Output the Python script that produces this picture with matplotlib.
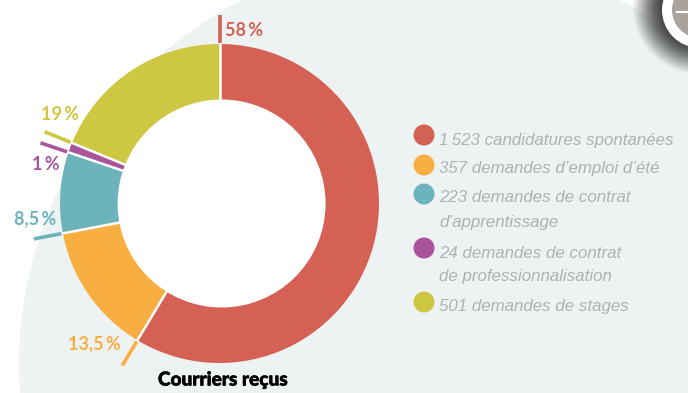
import matplotlib
matplotlib.use("Agg")
import matplotlib.pyplot as plt
import matplotlib.patheffects as pe
from matplotlib.patches import Circle
import numpy as np

# slice shares as measured on the picture (legend counts stay in the text)
shares = [58.6, 13.4, 8.2, 1.0, 18.8]
pct_labels = ["58\u2009%", "13,5\u2009%", "8,5\u2009%", "1\u2009%", "19\u2009%"]
colors = ["#d56154", "#f9ae41", "#6db3bc", "#a9559b", "#cdc742"]
legend_lines = [
    ["1\u2009523 candidatures spontanées"],
    ["357 demandes d\u2019emploi d\u2019été"],
    ["223 demandes de contrat", "d\u2019apprentissage"],
    ["24 demandes de contrat", "de professionnalisation"],
    ["501 demandes de stages"],
]
title = "Courriers reçus"

W, H = 688, 393
fig = plt.figure(figsize=(W / 100, H / 100), dpi=100)
ax = fig.add_axes([0, 0, 1, 1])

def py(y):
    # picture y (top down) to axes y
    return H - y

cx, cy, r_out = 219.5, py(203.5), 159.5
# the hole is not quite centred on the ring in the original
hole_x, hole_r = 221.6, 104

# big pale disc behind everything
ax.add_patch(Circle((431, py(366)), 412, fc="#edf3f3", ec="none", zorder=0))

# clock badge in the corner with its soft shadow
for rad in np.arange(66, 37, -1.5):
    a = 0.045 + 0.10 * (66 - rad) / 28
    ax.add_patch(Circle((699, py(8)), rad, fc="#2e2e2e", ec="none", alpha=a, zorder=1))
ax.add_patch(Circle((700, py(10)), 38, fc="white", ec="none", zorder=2))
ax.add_patch(Circle((700, py(10)), 28, fc="#aaa39d", ec="none", zorder=3))
ax.plot([677, 688], [py(12), py(12)], color="white", lw=1.5, zorder=4)

wedges, _ = ax.pie(
    shares, colors=colors, startangle=90, counterclock=False,
    center=(cx, cy), radius=r_out, frame=True,
    wedgeprops=dict(width=r_out - 90, linewidth=0),
)
for w in wedges:
    w.set_zorder(5)

# white gaps and leader ticks sit on the start edge of each slice
fracs = np.cumsum([0] + shares[:-1]) / sum(shares)
for f, col in zip(fracs, colors):
    ang = np.pi / 2 - 2 * np.pi * f
    dx, dy = np.cos(ang), np.sin(ang)
    ax.plot([cx + dx * 95, cx + dx * (r_out + 1)],
            [cy + dy * 95, cy + dy * (r_out + 1)],
            color="white", lw=1.8, solid_capstyle="butt", zorder=6)
    ax.plot([cx + dx * 161, cx + dx * 189], [cy + dy * 161, cy + dy * 189],
            color=col, lw=2.6, solid_capstyle="butt", zorder=7)
ax.add_patch(Circle((hole_x, cy), hole_r, fc="white", ec="none", zorder=6.5))

label_pos = [(225, 30), (68, 344), (14, 219), (32, 165), (41, 115)]
for (x, y), txt, col in zip(label_pos, pct_labels, colors):
    ax.text(x, py(y), txt, color=col, fontsize=13, fontweight="bold",
            family="Lato", ha="left", va="center", zorder=8)

ax.text(223, py(380), title, color="black", fontsize=13.7, fontweight="black",
        family="Lato", ha="center", va="center", zorder=8,
        path_effects=[pe.withStroke(linewidth=0.4, foreground="black")])

# legend
marker_y = [135, 165, 194, 248, 302]
text_y = [[140], [169], [198, 222], [253, 276], [306]]
for my, ys, lines, col in zip(marker_y, text_y, legend_lines, colors):
    ax.add_patch(Circle((424, py(my)), 10.5, fc=col, ec="none", zorder=7))
    for ty, line in zip(ys, lines):
        ax.text(439, py(ty), line, color="#adb2b2", fontsize=12.2, style="italic",
                family="Liberation Sans", ha="left", va="center", zorder=7)

ax.set_xlim(0, W)
ax.set_ylim(0, H)
ax.set_aspect("auto")
ax.axis("off")
fig.savefig("out.png", dpi=100)
